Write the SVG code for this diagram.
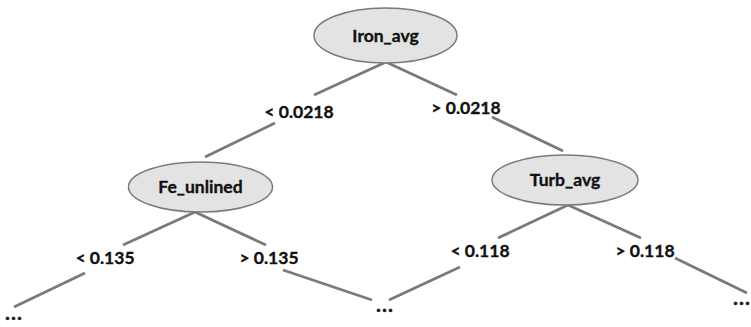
<svg xmlns="http://www.w3.org/2000/svg" width="751" height="327" viewBox="0 0 751 327">
<style>
.edge{stroke:#7a7a7a;stroke-width:2.8;fill:none}
.node ellipse{fill:#e3e3e3;stroke:#7a7a7a;stroke-width:1.5}
text{font-family:Lato,"Open Sans","Liberation Sans",sans-serif;font-weight:bold;font-size:17.5px;fill:#111111;stroke:#111111;stroke-width:0.35}
.c{text-anchor:middle}
.dots{font-size:21px;letter-spacing:1px}
</style>
<rect width="751" height="327" fill="#ffffff"/>
<g id="connectors">
<line class="edge" x1="386" y1="62" x2="314" y2="95"/>
<line class="edge" x1="275" y1="123" x2="205" y2="157"/>
<line class="edge" x1="386" y1="62" x2="457" y2="95"/>
<line class="edge" x1="492" y1="117" x2="563" y2="151"/>
<line class="edge" x1="195" y1="212" x2="123" y2="245"/>
<line class="edge" x1="85" y1="273" x2="14" y2="307"/>
<line class="edge" x1="195" y1="212" x2="266" y2="245"/>
<line class="edge" x1="283" y1="270" x2="372" y2="300"/>
<line class="edge" x1="568" y1="205" x2="498" y2="238"/>
<line class="edge" x1="460" y1="267" x2="389" y2="300"/>
<line class="edge" x1="568" y1="205" x2="641" y2="238"/>
<line class="edge" x1="675" y1="258" x2="747" y2="293"/>
</g>
<g id="edge-labels">
<text class="c" x="299" y="118">&lt; 0.0218</text>
<text class="c" x="466" y="114">&gt; 0.0218</text>
<text class="c" x="105" y="264">&lt; 0.135</text>
<text class="c" x="269" y="264">&gt; 0.135</text>
<text class="c" x="480" y="257">&lt; 0.118</text>
<text class="c" x="645" y="257">&gt; 0.118</text>
</g>
<g id="node-iron" class="node">
<ellipse cx="385.5" cy="35.5" rx="71.5" ry="27.5"/>
<text class="c" x="385.5" y="42">Iron_avg</text>
</g>
<g id="node-fe" class="node">
<ellipse cx="200.5" cy="187" rx="72" ry="25"/>
<text class="c" x="200.5" y="193">Fe_unlined</text>
</g>
<g id="node-turb" class="node">
<ellipse cx="565" cy="180" rx="73" ry="25"/>
<text class="c" x="565" y="186">Turb_avg</text>
</g>
<g id="leaf-1"><text class="dots" x="5" y="320">...</text></g>
<g id="leaf-2"><text class="dots" x="376" y="312">...</text></g>
<g id="leaf-3"><text class="dots" x="733" y="305">...</text></g>
</svg>
